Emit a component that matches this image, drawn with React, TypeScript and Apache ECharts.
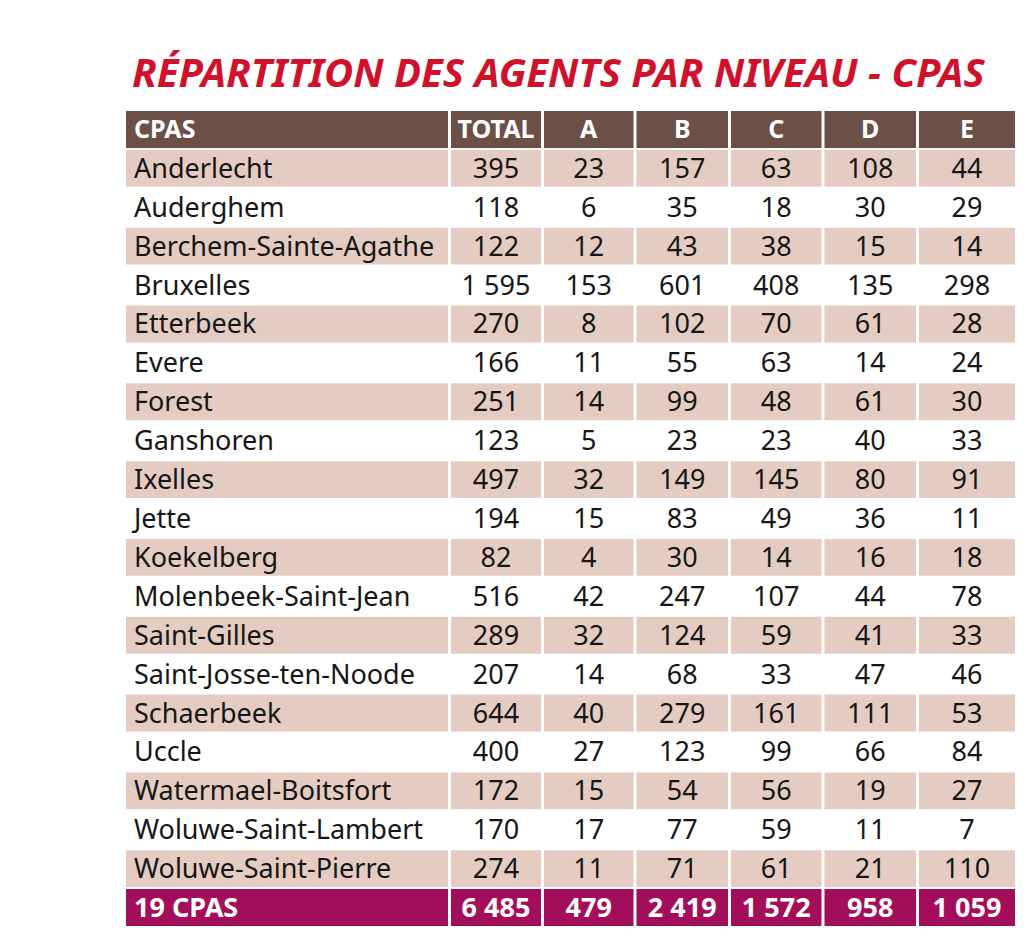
import React, { useEffect, useRef } from "react";
import * as echarts from "echarts";

const titleText = "RÉPARTITION DES AGENTS PAR NIVEAU - CPAS";
const columns = ["CPAS", "TOTAL", "A", "B", "C", "D", "E"];
const communes = [
  "Anderlecht", "Auderghem", "Berchem-Sainte-Agathe", "Bruxelles", "Etterbeek",
  "Evere", "Forest", "Ganshoren", "Ixelles", "Jette", "Koekelberg",
  "Molenbeek-Saint-Jean", "Saint-Gilles", "Saint-Josse-ten-Noode", "Schaerbeek",
  "Uccle", "Watermael-Boitsfort", "Woluwe-Saint-Lambert", "Woluwe-Saint-Pierre",
];
const totals = [395, 118, 122, 1595, 270, 166, 251, 123, 497, 194, 82, 516, 289, 207, 644, 400, 172, 170, 274];
const levelA = [23, 6, 12, 153, 8, 11, 14, 5, 32, 15, 4, 42, 32, 14, 40, 27, 15, 17, 11];
const levelB = [157, 35, 43, 601, 102, 55, 99, 23, 149, 83, 30, 247, 124, 68, 279, 123, 54, 77, 71];
const levelC = [63, 18, 38, 408, 70, 63, 48, 23, 145, 49, 14, 107, 59, 33, 161, 99, 56, 59, 61];
const levelD = [108, 30, 15, 135, 61, 14, 61, 40, 80, 36, 16, 44, 41, 47, 111, 66, 19, 11, 21];
const levelE = [44, 29, 14, 298, 28, 24, 30, 33, 91, 11, 18, 78, 33, 46, 53, 84, 27, 7, 110];
const summaryLabel = "19 CPAS";
const summaryValues = [6485, 479, 2419, 1572, 958, 1059];

// layout (not data)
const colEdges = [0, 323.5, 416.5, 509, 603.5, 697, 791.5, 889];
const FONT = "'Noto Sans', 'Open Sans', sans-serif";
const C_HEADER = "#6c4f46";
const C_PINK = "#e5ccc3";
const C_TOTAL = "#a30e5a";
const C_TITLE = "#d0112b";
const C_TEXT = "#161616";

function fmt(n: number): string {
  if (n >= 1000) {
    return Math.floor(n / 1000) + " " + String(n % 1000).padStart(3, "0");
  }
  return String(n);
}

export default function App() {
  const ref = useRef<HTMLDivElement>(null);
  useEffect(() => {
    document.body.style.margin = "0";
    const chart = echarts.init(ref.current!, null, { renderer: "svg" });

    const rowLabels = ["CPAS", ...communes, summaryLabel];
    const bodyCols = [totals, levelA, levelB, levelC, levelD, levelE];
    const cells: { text: string; row: number; col: number }[] = [];
    const data: number[][] = [];
    const nRows = rowLabels.length;
    for (let r = 0; r < nRows; r++) {
      for (let c = 0; c < columns.length; c++) {
        let text = "";
        if (r === 0) text = columns[c];
        else if (r === nRows - 1) text = c === 0 ? summaryLabel : fmt(summaryValues[c - 1]);
        else text = c === 0 ? communes[r - 1] : fmt(bodyCols[c - 1][r - 1]);
        cells.push({ text, row: r, col: c });
        data.push([c, r]);
      }
    }

    const option: any = {
      animation: false,
      title: {
        text: titleText,
        left: 127,
        top: 46,
        textStyle: {
          fontFamily: FONT,
          fontSize: 40,
          fontWeight: "bold",
          fontStyle: "italic",
          color: C_TITLE,
        },
      },
      grid: { left: 126, right: 1024 - 1015, top: 110, height: 817, containLabel: false },
      xAxis: { type: "value", min: 0, max: 889, show: false },
      yAxis: { type: "category", data: rowLabels, inverse: true, show: false },
      series: [
        {
          type: "custom",
          data,
          encode: { x: 0, y: 1 },
          renderItem: (params: any, api: any) => {
            const cell = cells[params.dataIndex];
            const c = cell.col;
            const r = cell.row;
            const left = api.coord([colEdges[c], r]);
            const right = api.coord([colEdges[c + 1], r]);
            const bandH = api.size([0, 1])[1];
            const gl = c === 0 ? 0 : 1.5;
            const gr = c === columns.length - 1 ? 0 : 1.5;
            const x0 = left[0] + gl;
            const x1 = right[0] - gr;
            const y0 = left[1] - bandH / 2 + 1;
            const h = bandH - 2;
            const isHeader = r === 0;
            const isTotal = r === nRows - 1;
            let fill: string | null = null;
            if (isHeader) fill = C_HEADER;
            else if (isTotal) fill = C_TOTAL;
            else if (r % 2 === 1) fill = C_PINK;
            const children: any[] = [];
            if (fill) {
              children.push({
                type: "rect",
                shape: { x: x0, y: y0, width: x1 - x0, height: h },
                style: { fill },
              });
            }
            const strong = isHeader || isTotal;
            children.push({
              type: "text",
              x: c === 0 ? x0 + 8 : (x0 + x1) / 2,
              y: left[1] - 1,
              style: {
                text: cell.text,
                fontFamily: FONT,
                fontSize: isHeader ? 25 : 27,
                fontWeight: strong ? "bold" : "normal",
                fill: strong ? "#ffffff" : C_TEXT,
                align: c === 0 ? "left" : "center",
                verticalAlign: "middle",
              },
            });
            return { type: "group", children };
          },
        },
      ],
    };
    chart.setOption(option);
    return () => chart.dispose();
  }, []);
  return <div ref={ref} style={{ width: 1024, height: 940 }} />;
}
